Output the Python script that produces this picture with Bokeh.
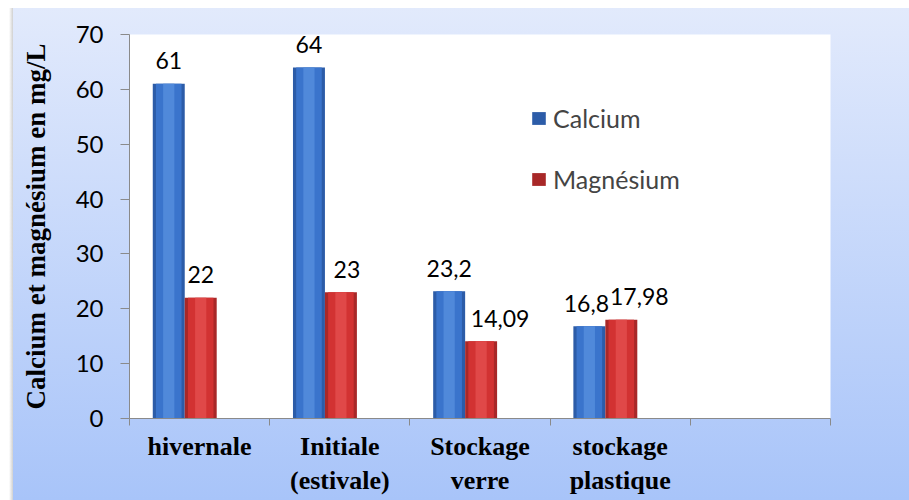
import numpy as np
from bokeh.plotting import figure
from bokeh.models import Range1d, FixedTicker, Legend, LegendItem, ColumnDataSource
from bokeh.core.properties import value
from bokeh.embed import file_html
from bokeh.resources import INLINE

# ---- data ----
categories = ["hivernale", "Initiale\n(estivale)", "Stockage\nverre", "stockage\nplastique", ""]
calcium = [61, 64, 23.2, 16.8]
magnesium = [22, 23, 14.09, 17.98]
y_ticks = [0, 10, 20, 30, 40, 50, 60, 70]
series_names = ["Calcium", "Magnésium"]
y_title = "Calcium et magnésium en mg/L"

# ---- style ----
BAR_W = 0.228
OFF_CA = -0.22
OFF_MG = 0.008
blue_cols = ["#2c5ca8", "#3a74cc", "#5089da"]
red_cols = ["#a82828", "#d23232", "#e04848"]
ca_label_dx = [0, 0, 0, -3]
mg_label_dx = [0, 6, 19, 18]
GRAY = "#8a8a8a"

idx = np.arange(len(calcium))
x_ca = idx + OFF_CA
x_mg = idx + OFF_MG

fmt = lambda v: f"{v:g}".replace(".", ",")

p = figure(width=909, height=500, output_backend="svg", toolbar_location=None,
           x_range=Range1d(-0.5, len(categories) - 0.5), y_range=Range1d(0, 70),
           min_border_left=129, min_border_top=34, min_border_right=79, min_border_bottom=82)
p.styles = {
    "background": ("linear-gradient(to right, #ffffff, #d0d0d0) 9px 8px / 4px 492px no-repeat, "
                   "linear-gradient(to bottom, #e2eafc, #a8c4f9) 13px 8px / 896px 492px no-repeat, "
                   "#ffffff")
}
p.border_fill_color = None
p.background_fill_color = "white"
p.outline_line_color = None
p.grid.visible = False

src_ca = ColumnDataSource(dict(x=x_ca, top=calcium, lab=[fmt(v) for v in calcium], dx=ca_label_dx))
src_mg = ColumnDataSource(dict(x=x_mg, top=magnesium, lab=[fmt(v) for v in magnesium], dx=mg_label_dx))

# layered bars to imitate cylinder shading
r_ca = p.vbar(x="x", top="top", bottom=0, width=BAR_W, source=src_ca,
              fill_color=blue_cols[0], line_color=None)
p.vbar(x="x", top="top", bottom=0, width=BAR_W * 0.8, source=src_ca,
       fill_color=blue_cols[1], line_color=None)
p.vbar(x="x", top="top", bottom=0, width=BAR_W * 0.35, source=src_ca,
       fill_color=blue_cols[2], line_color=None)
r_mg = p.vbar(x="x", top="top", bottom=0, width=BAR_W, source=src_mg,
              fill_color=red_cols[0], line_color=None)
p.vbar(x="x", top="top", bottom=0, width=BAR_W * 0.8, source=src_mg,
       fill_color=red_cols[1], line_color=None)
p.vbar(x="x", top="top", bottom=0, width=BAR_W * 0.35, source=src_mg,
       fill_color=red_cols[2], line_color=None)

for src in (src_ca, src_mg):
    p.text(x="x", y="top", text="lab", source=src, x_offset="dx", y_offset=-23,
           text_align="center", text_baseline="alphabetic",
           text_font=value("Lato"), text_font_size="23px", text_color="black")

# y axis
ya = p.yaxis[0]
ya.ticker = FixedTicker(ticks=y_ticks)
ya.minor_tick_line_color = None
ya.major_tick_in = 0
ya.major_tick_out = 9
ya.major_tick_line_color = GRAY
ya.axis_line_color = GRAY
ya.major_label_text_font = "Lato"
ya.major_label_text_font_size = "24px"
ya.major_label_text_color = "black"
ya.major_label_standoff = 17
ya.axis_label = y_title
ya.axis_label_text_font = "Liberation Serif"
ya.axis_label_text_font_style = "bold"
ya.axis_label_text_font_size = "27px"
ya.axis_label_text_color = "black"
ya.axis_label_standoff = 22

# x axis: labels at category centres, ticks at boundaries
xa = p.xaxis[0]
centres = list(range(len(categories)))
bounds = [c - 0.5 for c in centres] + [len(categories) - 0.5]
xa.ticker = FixedTicker(ticks=centres, minor_ticks=bounds)
xa.major_label_overrides = {c: categories[c] for c in centres}
xa.major_tick_line_color = None
xa.major_tick_out = 0
xa.major_tick_in = 0
xa.minor_tick_in = 0
xa.minor_tick_out = 7
xa.minor_tick_line_color = GRAY
xa.axis_line_color = GRAY
xa.major_label_text_font = "Liberation Serif"
xa.major_label_text_font_style = "bold"
xa.major_label_text_font_size = "26px"
xa.major_label_text_color = "black"
xa.major_label_standoff = 6

legend = Legend(items=[LegendItem(label=series_names[0], renderers=[r_ca]),
                       LegendItem(label=series_names[1], renderers=[r_mg])],
                location=(401, 224), orientation="vertical",
                background_fill_alpha=0, border_line_color=None,
                label_text_font="Lato", label_text_font_size="25px",
                glyph_width=17, glyph_height=16, label_standoff=6,
                spacing=31, padding=0, margin=0)
p.add_layout(legend)

open("out.html", "w").write(file_html(p, INLINE))
